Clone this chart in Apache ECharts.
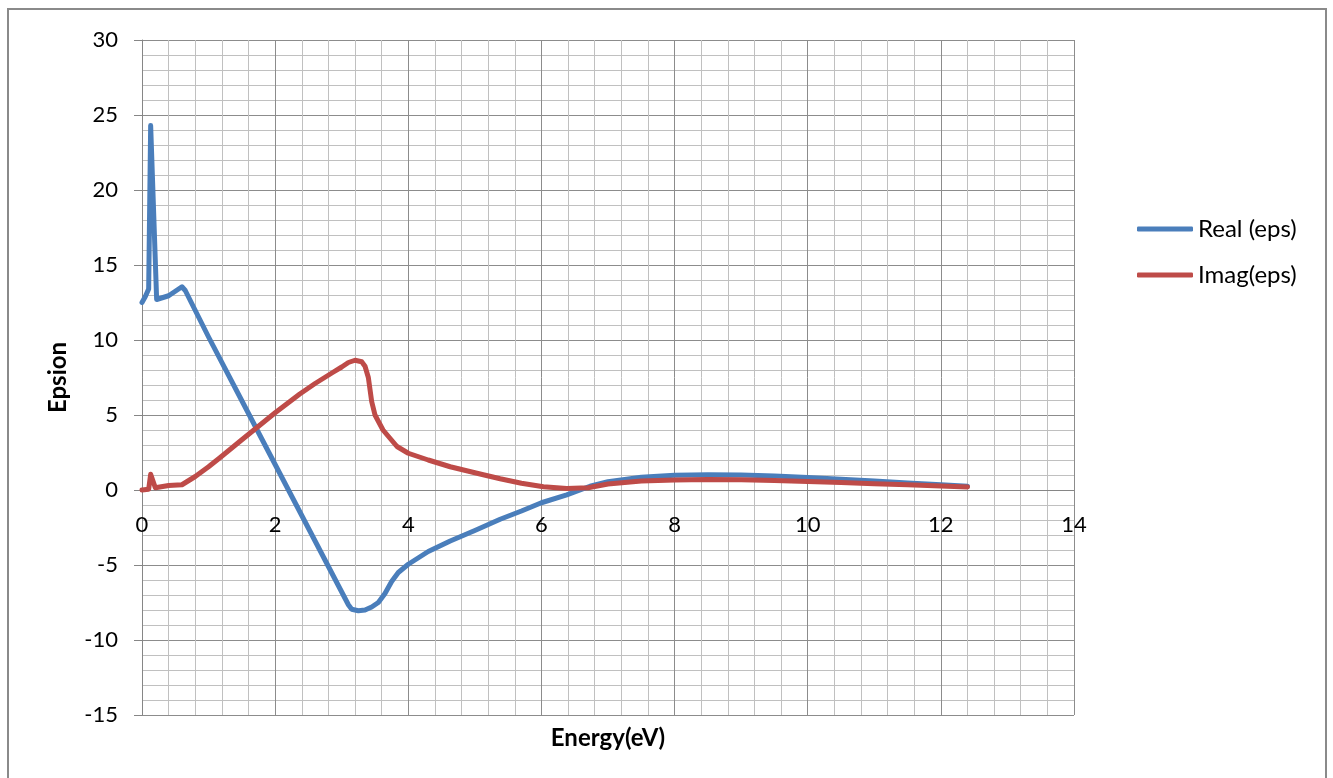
<!DOCTYPE html>
<html><head><meta charset="utf-8">
<script src="https://cdn.jsdelivr.net/npm/echarts@6/dist/echarts.min.js"></script>
<style>html,body{margin:0;padding:0;background:#fff}#c{width:1333px;height:778px}</style>
</head><body><div id="c"></div>
<script>
const energyReal = [0, 0.05, 0.1, 0.13, 0.22, 0.25, 0.4, 0.6, 0.65, 1.0, 1.5, 2.0, 2.5, 3.0, 3.1, 3.15, 3.25, 3.35, 3.45, 3.55, 3.65, 3.75, 3.85, 4.0, 4.3, 4.63, 5.0, 5.38, 5.7, 6.0, 6.38, 6.73, 7.0, 7.5, 8.0, 8.5, 9.0, 9.5, 10.0, 10.5, 11.0, 11.5, 12.0, 12.4];
const realEps = [12.5, 12.9, 13.4, 24.3, 12.7, 12.65, 12.95, 13.55, 13.3, 10.2, 5.95, 1.7, -2.55, -6.8, -7.65, -7.95, -8.05, -8.0, -7.8, -7.5, -6.9, -6.1, -5.5, -4.95, -4.1, -3.4, -2.7, -1.95, -1.4, -0.85, -0.33, 0.25, 0.55, 0.85, 0.98, 1.02, 1.0, 0.93, 0.83, 0.72, 0.6, 0.47, 0.35, 0.25];
const energyImag = [0, 0.1, 0.13, 0.2, 0.4, 0.6, 0.8, 1.0, 1.17, 1.5, 2.0, 2.37, 2.6, 2.87, 3.0, 3.1, 3.2, 3.3, 3.35, 3.4, 3.45, 3.5, 3.62, 3.83, 4.0, 4.3, 4.63, 5.0, 5.38, 5.7, 6.03, 6.38, 6.7, 7.0, 7.5, 8.0, 8.5, 9.0, 9.5, 10.0, 10.5, 11.0, 11.5, 12.0, 12.4];
const imagEps = [0, 0.05, 1.05, 0.15, 0.3, 0.35, 0.9, 1.55, 2.15, 3.35, 5.15, 6.4, 7.1, 7.85, 8.2, 8.5, 8.65, 8.55, 8.25, 7.5, 5.9, 5.0, 4.0, 2.9, 2.45, 2.0, 1.55, 1.15, 0.75, 0.45, 0.22, 0.1, 0.15, 0.4, 0.6, 0.67, 0.7, 0.68, 0.63, 0.57, 0.5, 0.42, 0.35, 0.27, 0.2];
const seriesNames = ['Real (eps)', 'Imag(eps)'];
const xTitle = 'Energy(eV)';
const yTitle = 'Epsion';

const chart = echarts.init(document.getElementById('c'));
const font = 'Lato, "Open Sans", sans-serif';
const pairs = (xs, ys) => xs.map((x, i) => [x, ys[i]]);
chart.setOption({
  animation: false,
  backgroundColor: '#fff',
  graphic: [
    {type: 'rect', shape: {x: 8, y: 9, width: 1318, height: 790}, style: {fill: 'none', stroke: '#8a8a8a', lineWidth: 2}, z: -1},
    {type: 'text', x: 608, y: 726, style: {text: xTitle, font: 'bold 24px ' + font, fill: '#000', align: 'center', textAlign: 'center'}}
  ],
  grid: {left: 142, right: 259, top: 40, bottom: 63, containLabel: false, outerBoundsMode: 'none'},
  legend: {
    orient: 'vertical', left: 1132, top: 212, itemGap: 22, itemWidth: 56, itemHeight: 5,
    icon: 'roundRect',
    textStyle: {fontFamily: font, fontSize: 24, color: '#000'},
    data: seriesNames
  },
  xAxis: {
    type: 'value', min: 0, max: 14, interval: 2,
    position: 'bottom', offset: -225,
    axisLine: {onZero: false, lineStyle: {color: '#868686', width: 1}},
    axisTick: {show: false},
    axisLabel: {margin: 24, fontFamily: font, fontSize: 22, color: '#000'},
    splitLine: {show: true, lineStyle: {color: '#8c8c8c', width: 1}},
    minorTick: {show: false, splitNumber: 5},
    minorSplitLine: {show: true, lineStyle: {color: '#c0c0c0', width: 1}}
  },
  yAxis: {
    type: 'value', min: -15, max: 30, interval: 5,
    name: yTitle, nameLocation: 'middle', nameGap: 72, nameRotate: 90,
    nameTextStyle: {fontFamily: font, fontSize: 24, fontWeight: 'bold', color: '#000'},
    axisLine: {show: true, onZero: false, lineStyle: {color: '#868686', width: 1}},
    axisTick: {show: true, length: 8, inside: false, lineStyle: {color: '#868686'}},
    axisLabel: {margin: 24, fontFamily: font, fontSize: 22, color: '#000'},
    splitLine: {show: true, lineStyle: {color: '#8c8c8c', width: 1}},
    minorTick: {show: false, splitNumber: 5},
    minorSplitLine: {show: true, lineStyle: {color: '#c0c0c0', width: 1}}
  },
  series: [
    {name: seriesNames[0], type: 'line', data: pairs(energyReal, realEps), symbol: 'none', smooth: false,
     lineStyle: {color: '#4A7EBB', width: 5, cap: 'round', join: 'round'}, itemStyle: {color: '#4A7EBB'}},
    {name: seriesNames[1], type: 'line', data: pairs(energyImag, imagEps), symbol: 'none', smooth: false,
     lineStyle: {color: '#BE4B48', width: 5, cap: 'round', join: 'round'}, itemStyle: {color: '#BE4B48'}}
  ]
});
</script></body></html>
